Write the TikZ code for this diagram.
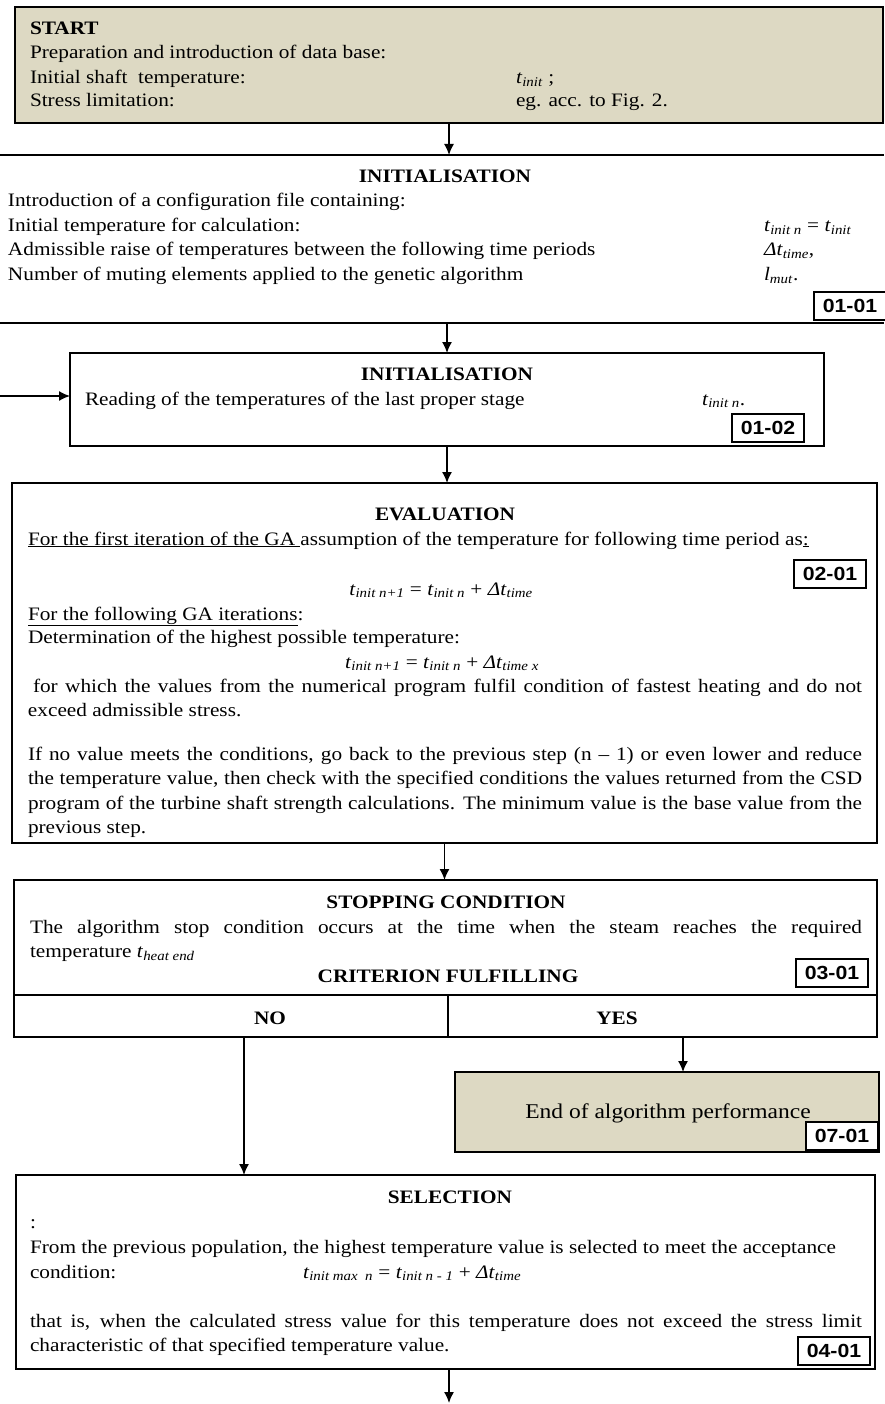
\documentclass[tikz,border=0pt]{standalone}
\usepackage{fontspec}
\setmainfont{Liberation Serif}[FakeStretch=1.12]
\newfontfamily\tagfamily{Liberation Sans}[FakeStretch=1.12]
\usetikzlibrary{arrows.meta}
\definecolor{boxtan}{HTML}{DDD9C3}
\hyphenpenalty=10000
\exhyphenpenalty=10000

\newcommand{\tsub}[2]{\textit{#1}\textsubscript{\textit{#2}}}
\newcommand{\bodysize}{\fontsize{19}{24.5}\selectfont}

\tikzstyle{frame} = [draw, line width=1.6pt, inner sep=0pt, outer sep=0pt, anchor=north west]
\tikzstyle{tanframe} = [frame, fill=boxtan]
\tikzstyle{txt} = [anchor=base west, inner sep=0pt, outer sep=0pt]
\tikzstyle{head} = [anchor=base, inner sep=0pt, font=\bodysize\bfseries]
\tikzstyle{para} = [txt, text width=834pt, align=justify]
\tikzstyle{tag} = [draw, line width=1.4pt, fill=white, minimum width=72pt, minimum height=28pt, inner sep=0pt, font=\tagfamily\bfseries\fontsize{19}{22}\selectfont]
\tikzstyle{flow} = [-{Latex[length=11pt,width=10pt]}, line width=1.5pt]

\begin{document}
\begin{tikzpicture}[x=1pt, y=-1pt, font=\bodysize]
\useasboundingbox (0,0) rectangle (884,1404);

% start
\node[tanframe, line width=2pt, minimum width=868pt, minimum height=116pt] (start) at (15,7) {};
\node[txt, font=\bodysize\bfseries] (s0) at (30,35) {START};
\node[txt] (s1) at (30,59) {Preparation and introduction of data base:};
\node[txt] (s2) at (30,84) {Initial shaft~ temperature:};
\node[txt] (s3) at (30,107) {Stress limitation:};
\node[txt] (s4) at (516,84) {\tsub{t}{init} ;};
\node[txt] (s5) at (516,107) {eg. acc. to Fig. 2.};

% initialisation, configuration file
\node[inner sep=0pt, outer sep=0pt, anchor=north west, minimum width=884pt, minimum height=168pt] (ini) at (0,155) {};
\draw[line width=1.8pt] (ini.north west) -- (ini.north east) (ini.south west) -- (ini.south east);
\node[head] (i0) at (445,183) {INITIALISATION};
\node[txt] (i1) at (8,207) {Introduction of a configuration file containing:};
\node[txt] (i2) at (8,232) {Initial temperature for calculation:};
\node[txt] (i3) at (8,256) {Admissible raise of temperatures between the following time periods};
\node[txt] (i4) at (8,281) {Number of muting elements applied to the genetic algorithm};
\node[txt] (i5) at (764,232) {\tsub{t}{init n} = \tsub{t}{init}};
\node[txt] (i6) at (764,256) {\tsub{Δt}{time},};
\node[txt] (i7) at (764,281) {\tsub{l}{mut}.};
\node[tag] (t11) at (850,306) {01-01};

% initialisation, last proper stage
\node[frame, minimum width=754pt, minimum height=93pt] (rd) at (70,353) {};
\node[head] (r0) at (447,380) {INITIALISATION};
\node[txt] (r1) at (85,405) {Reading of the temperatures of the last proper stage};
\node[txt] (r2) at (702,405) {\tsub{t}{init n}.};
\node[tag] (t12) at (768,428) {01-02};

% evaluation
\node[frame, minimum width=865pt, minimum height=360pt] (ev) at (12,483) {};
\node[head] (e0) at (445,520) {EVALUATION};
\node[txt] (e1) at (28,545) {\underline{For the first iteration of the GA }assumption of the temperature for following time period as\underline{:}};
\node[tag] (t21) at (830,574) {02-01};
\node[anchor=base, inner sep=0pt] (e2) at (441,595) {\tsub{t}{init n+1} = \tsub{t}{init n} + \tsub{Δt}{time}};
\node[txt] (e3) at (28,620) {\underline{For the following GA iterations}:};
\node[txt] (e4) at (28,643) {Determination of the highest possible temperature:};
\node[anchor=base, inner sep=0pt] (e5) at (442,668) {\tsub{t}{init n+1} = \tsub{t}{init n} + \tsub{Δt}{time x}};
\node[para] (e6) at (28,692) {\hspace*{5pt}for which the values from the numerical program fulfil condition of fastest heating and do not\linebreak exceed admissible stress.};
\node[para] (e7) at (28,760) {If no value meets the conditions, go back to the previous step (n – 1) or even lower and reduce\linebreak the temperature value, then check with the specified conditions the values returned from the CSD\linebreak program of the turbine shaft strength calculations. The minimum value is the base value from the\linebreak previous step.};

% stopping condition
\node[frame, minimum width=863pt, minimum height=157pt] (sc) at (14,880) {};
\node[head] (c0) at (446,908) {STOPPING CONDITION};
\node[para, text width=832pt] (c1) at (30,933) {The algorithm stop condition occurs at the time when the steam reaches the required\linebreak temperature \tsub{t}{heat end}};
\node[head] (c2) at (448,982) {CRITERION FULFILLING};
\node[tag] (t31) at (832,973) {03-01};
\coordinate (split) at (448,995);
\draw[line width=1.6pt] (sc.west |- split) -- (sc.east |- split);
\draw[line width=1.6pt] (split) -- (split |- sc.south);
\node[head] (no) at (270,1024) {NO};
\node[head] (yes) at (617,1024) {YES};

% end
\node[tanframe, line width=2pt, minimum width=424pt, minimum height=80pt] (fin) at (455,1072) {};
\node[anchor=base, inner sep=0pt, font=\fontsize{21}{25}\selectfont] (f0) at (668,1118) {End of algorithm performance};
\node[tag] (t71) at (842,1136) {07-01};

% selection
\node[frame, minimum width=859pt, minimum height=194pt] (sel) at (16,1175) {};
\node[head] (l0) at (450,1203) {SELECTION};
\node[txt] (l1) at (30,1228) {:};
\node[txt] (l2) at (30,1253) {From the previous population, the highest temperature value is selected to meet the acceptance};
\node[txt] (l3) at (30,1278) {condition:};
\node[txt] (l4) at (303,1278) {\tsub{t}{init max~ n} = \tsub{t}{init n - 1} + \tsub{Δt}{time}};
\node[para, text width=832pt] (l5) at (30,1327) {that is, when the calculated stress value for this temperature does not exceed the stress limit\linebreak characteristic of that specified temperature value.};
\node[tag] (t41) at (834,1351) {04-01};

% connectors
\coordinate (back) at (0,396);
\coordinate (noA) at (244,0);
\coordinate (yesA) at (683,0);
\coordinate (exit) at (449,1403);
\draw[flow] (start.south) -- (start.south |- ini.north);
\draw[flow] (rd.north |- ini.south) -- (rd.north);
\draw[flow] (back) -- (back -| rd.west);
\draw[flow] (rd.south) -- (rd.south |- ev.north);
\draw[flow] (ev.south) -- (ev.south |- sc.north);
\draw[flow] (noA |- sc.south) -- (noA |- sel.north);
\draw[flow] (yesA |- sc.south) -- (yesA |- fin.north);
\draw[flow] (sel.south -| exit) -- (exit);
\end{tikzpicture}
\end{document}
